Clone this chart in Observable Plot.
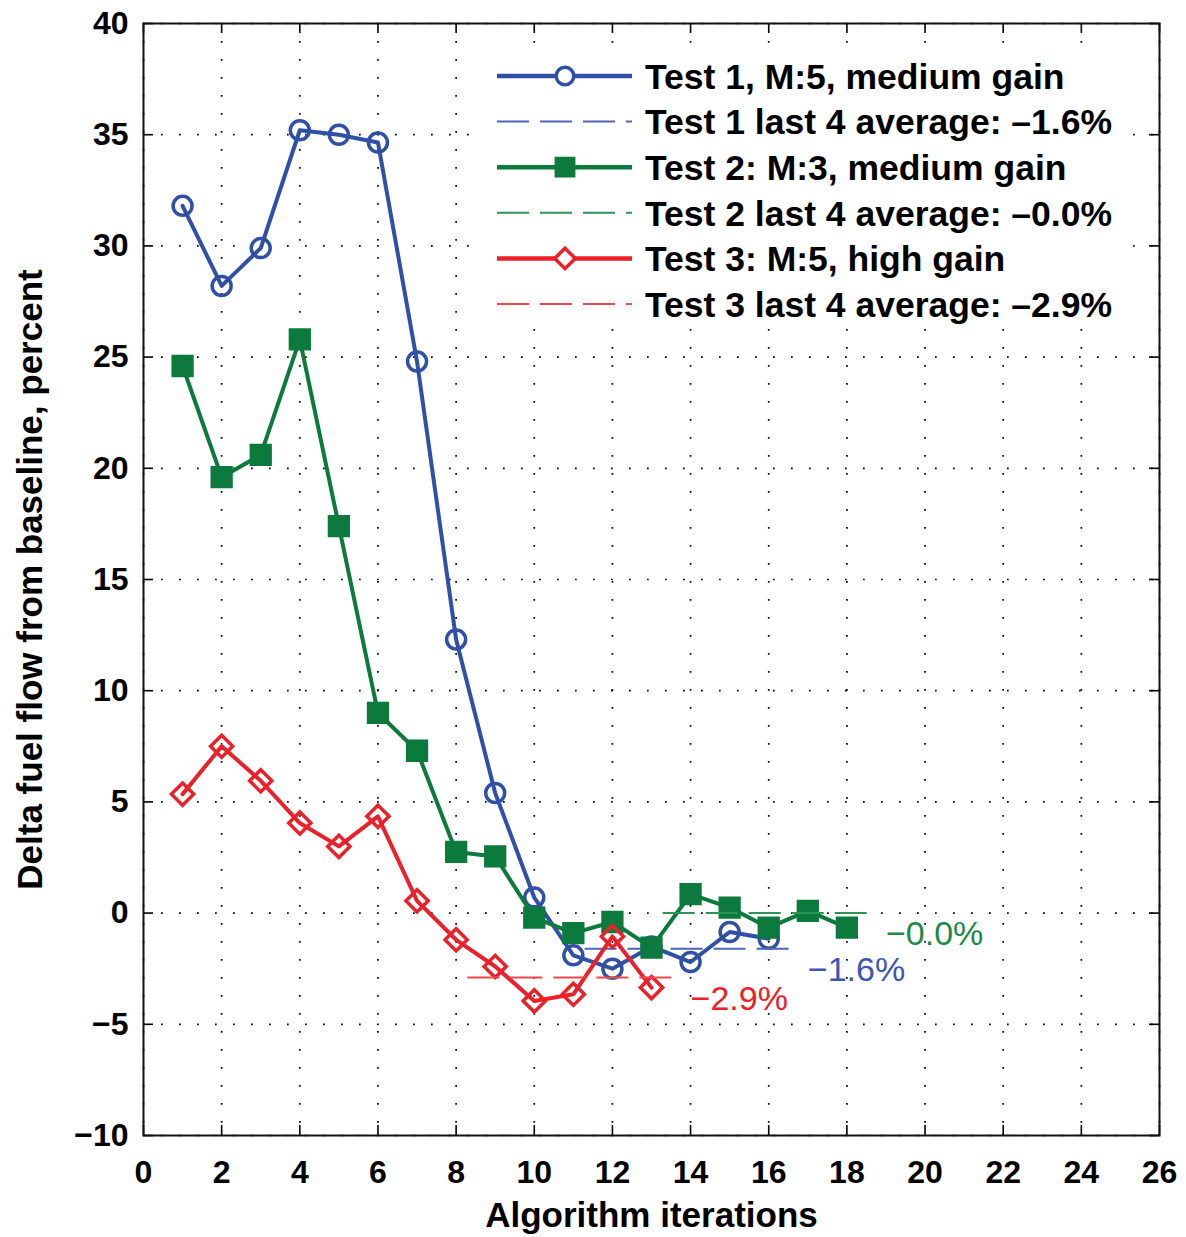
<!DOCTYPE html>
<html><head><meta charset="utf-8">
<script src="https://cdn.jsdelivr.net/npm/d3@7"></script>
<script src="https://cdn.jsdelivr.net/npm/@observablehq/plot@0.6"></script>
<style>
body{margin:0;background:#fff;}
#wrap{position:relative;width:1186px;height:1237px;font-family:"Liberation Sans",Arial,Helvetica,sans-serif;}
#legend{position:absolute;left:0;top:0;pointer-events:none;}
</style></head><body><div id="wrap"></div>
<script>
// ---- data ----
const test1 = [31.8, 28.2, 29.9, 35.2, 35.0, 34.65, 24.8, 12.3, 5.4, 0.7, -1.9, -2.5, -1.5, -2.2, -0.85, -1.15];
const test2 = [24.6, 19.6, 20.6, 25.8, 17.4, 9.0, 7.3, 2.75, 2.55, -0.2, -0.9, -0.4, -1.55, 0.85, 0.25, -0.65, 0.1, -0.65];
const test3 = [5.35, 7.5, 5.95, 4.05, 3.0, 4.35, 0.55, -1.2, -2.4, -3.95, -3.65, -1.05, -3.35];
const seriesNames = ["Test 1, M:5, medium gain", "Test 2: M:3, medium gain", "Test 3: M:5, high gain"];
const avgNames = ["Test 1 last 4 average: \u20131.6%", "Test 2 last 4 average: \u20130.0%", "Test 3 last 4 average: \u20132.9%"];
const averages = [-1.6, -0.0, -2.9];
const avgLabels = ["\u22121.6%", "\u22120.0%", "\u22122.9%"];
const avgStart = [11.3, 13.3, 8.3];
const avgEnd = [16.6, 18.6, 13.6];
const xTicks = [0, 2, 4, 6, 8, 10, 12, 14, 16, 18, 20, 22, 24, 26];
const yTicks = [-10, -5, 0, 5, 10, 15, 20, 25, 30, 35, 40];

// ---- styles ----
const W = 1186, H = 1237, mL = 143, mR = 27, mT = 23, mB = 102;
const innerW = W - mL - mR, innerH = H - mT - mB, TICK = 10;
const colors = ["#3050a8", "#0b7a3c", "#ec2029"];
const avgColors = ["#4a66bd", "#2e9455", "#f0474c"];
const labelColors = ["#3d56b5", "#1d8a47", "#ec2029"];
const symbols = ["circle", "square", "diamond2"];
const symR = [9.5, 10.6, 10];
const symFill = ["none", "#0b7a3c", "none"];

const seriesValues = [test1, test2, test3];
const rows = seriesValues.map(vals => vals.map((v, i) => ({iteration: i + 1, delta: v})));
const avgRows = averages.map((a, k) => ({
  avg: a, start: avgStart[k], end: avgEnd[k], label: avgLabels[k],
  lastX: seriesValues[k].length
}));

const gridStyle = {stroke: "#000", strokeOpacity: 1, strokeWidth: 1.7, strokeDasharray: "1.7,16.3"};
const marks = [
  Plot.gridX(xTicks, gridStyle),
  Plot.gridY(yTicks, gridStyle),
];
for (let k = 0; k < 3; k++) {
  marks.push(
    Plot.line(rows[k], {x: "iteration", y: "delta", stroke: colors[k], strokeWidth: 4}),
    Plot.dot(rows[k], {x: "iteration", y: "delta", symbol: symbols[k], r: symR[k], stroke: colors[k], strokeWidth: 3.5, fill: symFill[k]}),
    Plot.ruleY([avgRows[k]], {y: "avg", x1: "start", x2: "end", stroke: avgColors[k], strokeWidth: 2, strokeDasharray: "32,11"})
  );
}
for (let k = 0; k < 3; k++) {
  marks.push(Plot.text([avgRows[k]], {
    x: d => d.lastX + 1, y: d => d.avg - 0.95, text: "label",
    fill: labelColors[k], fontSize: 34, fontWeight: "normal", textAnchor: "start", lineAnchor: "middle"
  }));
}
const tickStyle = {stroke: "#000", strokeWidth: 1.6};
marks.push(
  // inward ticks on all four sides
  Plot.ruleX(xTicks, {x: d => d, insetTop: innerH - TICK, ...tickStyle}),
  Plot.ruleX(xTicks, {x: d => d, insetBottom: innerH - TICK, ...tickStyle}),
  Plot.ruleY(yTicks, {y: d => d, insetRight: innerW - TICK, ...tickStyle}),
  Plot.ruleY(yTicks, {y: d => d, insetLeft: innerW - TICK, ...tickStyle}),
  Plot.frame({stroke: "#111", strokeWidth: 2}),
  Plot.axisX({ticks: xTicks, tickSize: 0, tickPadding: 25, label: null, fontSize: 32, fontWeight: "bold"}),
  Plot.axisY({ticks: yTicks, tickSize: 0, tickPadding: 15, label: null, fontSize: 32, fontWeight: "bold"}),
  Plot.text(["Algorithm iterations"], {text: d => d, frameAnchor: "bottom", dy: 80, fontSize: 35, fontWeight: "bold", lineAnchor: "middle", textAnchor: "middle"}),
  Plot.text(["Delta fuel flow from baseline, percent"], {text: d => d, frameAnchor: "left", dx: -113, rotate: -90, fontSize: 35, fontWeight: "bold", lineAnchor: "middle", textAnchor: "middle"})
);

const chart = Plot.plot({
  width: W, height: H,
  marginLeft: mL, marginRight: mR, marginTop: mT, marginBottom: mB,
  x: {domain: [0, 26], label: null},
  y: {domain: [-10, 40], label: null},
  style: {fontFamily: "'Liberation Sans', Arial, Helvetica, sans-serif", color: "#000", background: "#fff", overflow: "visible"},
  marks
});
const wrap = document.getElementById("wrap");
wrap.appendChild(chart);

// ---- legend (inside plot area, top right, on a white unbordered box) ----
const legendItems = [];
for (let k = 0; k < 3; k++) {
  legendItems.push({name: seriesNames[k], color: colors[k], dashed: false, k});
  legendItems.push({name: avgNames[k], color: avgColors[k], dashed: true, k});
}
const leg = d3.select(wrap).append("svg").attr("id", "legend").attr("width", W).attr("height", 340);
leg.append("rect").attr("x", 484).attr("y", 50).attr("width", 642).attr("height", 276).attr("fill", "#fff");
const symMap = {circle: d3.symbolCircle, square: d3.symbolSquare, diamond2: d3.symbolDiamond2};
legendItems.forEach((it, i) => {
  const cy = 76 + i * 45.6;
  const g = leg.append("g");
  g.append("line").attr("x1", 497).attr("x2", 632).attr("y1", cy).attr("y2", cy)
    .attr("stroke", it.color).attr("stroke-width", it.dashed ? 2 : 4.5)
    .attr("stroke-dasharray", it.dashed ? "32,11" : null);
  if (!it.dashed) {
    g.append("path").attr("transform", `translate(565,${cy})`)
      .attr("d", d3.symbol(symMap[symbols[it.k]], Math.PI * symR[it.k] * symR[it.k] * 0.85)())
      .attr("stroke", it.color).attr("stroke-width", 3.5).attr("fill", symFill[it.k] === "none" ? "#fff" : symFill[it.k]);
  }
  g.append("text").attr("x", 645).attr("y", cy).attr("dy", "0.36em")
    .attr("font-size", 35.5).attr("font-weight", "bold").attr("fill", "#000")
    .attr("font-family", "'Liberation Sans', Arial, sans-serif")
    .text(it.name);
});
</script></body></html>
